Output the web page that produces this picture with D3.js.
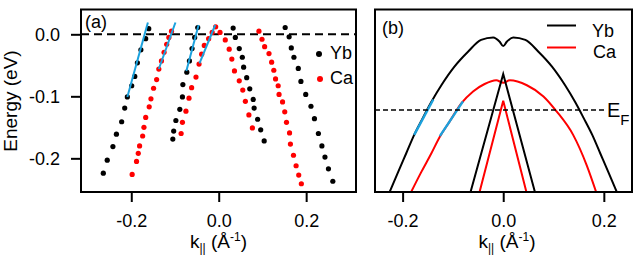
<!DOCTYPE html>
<html>
<head>
<meta charset="utf-8">
<script src="https://cdn.jsdelivr.net/npm/d3@7"></script>
<style>
body { margin: 0; background: #fff; }
text { font-family: "Liberation Sans", Arial, sans-serif; }
</style>
</head>
<body>
<svg width="642" height="256"></svg>
<script>
// tick labels
const kTicks = [-0.2, 0.0, 0.2];
const eTicks = [0.0, -0.1, -0.2];

// (a) measured peak positions, k (1/A) and E (eV)
const ybBand1 = [
  {k:-0.160, e:0.009}, {k:-0.167, e:-0.007}, {k:-0.178, e:-0.025}, {k:-0.186, e:-0.046},
  {k:-0.192, e:-0.068}, {k:-0.199, e:-0.083}, {k:-0.209, e:-0.101}, {k:-0.215, e:-0.119},
  {k:-0.222, e:-0.141}, {k:-0.234, e:-0.161}, {k:-0.242, e:-0.181}, {k:-0.255, e:-0.203},
  {k:-0.264, e:-0.224}
]
const caBand1 = [
  {k:-0.108, e:0.005}, {k:-0.114, e:-0.005}, {k:-0.119, e:-0.016}, {k:-0.125, e:-0.029},
  {k:-0.131, e:-0.043}, {k:-0.137, e:-0.056}, {k:-0.142, e:-0.073}, {k:-0.149, e:-0.087},
  {k:-0.155, e:-0.104}, {k:-0.159, e:-0.117}, {k:-0.167, e:-0.134}, {k:-0.171, e:-0.150},
  {k:-0.174, e:-0.164}, {k:-0.181, e:-0.180}, {k:-0.184, e:-0.192}, {k:-0.188, e:-0.205},
  {k:-0.198, e:-0.226}
]
const ybBand2 = [
  {k:-0.048, e:0.011}, {k:-0.055, e:-0.005}, {k:-0.061, e:-0.023}, {k:-0.067, e:-0.043},
  {k:-0.073, e:-0.061}, {k:-0.082, e:-0.081}, {k:-0.083, e:-0.101}, {k:-0.089, e:-0.121},
  {k:-0.098, e:-0.139}, {k:-0.103, e:-0.156}, {k:-0.105, e:-0.169}
]
const caBand2 = [
  {k:-0.007, e:0.012}, {k:-0.015, e:0.003}, {k:-0.023, e:-0.007}, {k:-0.033, e:-0.018},
  {k:-0.039, e:-0.032}, {k:-0.045, e:-0.048}, {k:-0.052, e:-0.069}, {k:-0.062, e:-0.086},
  {k:-0.068, e:-0.103}, {k:-0.075, e:-0.124}, {k:-0.083, e:-0.142}, {k:-0.086, e:-0.160}
]
const caBand3 = [
  {k:0.003, e:0.003}, {k:0.015, e:-0.009}, {k:0.024, e:-0.024}, {k:0.030, e:-0.040},
  {k:0.036, e:-0.059}, {k:0.047, e:-0.075}, {k:0.055, e:-0.090}, {k:0.061, e:-0.108},
  {k:0.069, e:-0.130}, {k:0.077, e:-0.151}
]
const ybBand3 = [
  {k:0.033, e:0.010}, {k:0.038, e:-0.005}, {k:0.047, e:-0.023}, {k:0.054, e:-0.037},
  {k:0.057, e:-0.053}, {k:0.064, e:-0.070}, {k:0.071, e:-0.088}, {k:0.079, e:-0.105},
  {k:0.081, e:-0.119}, {k:0.089, e:-0.137}, {k:0.096, e:-0.154}, {k:0.104, e:-0.172}
]
const caBand4 = [
  {k:0.092, e:0.005}, {k:0.099, e:-0.008}, {k:0.105, e:-0.020}, {k:0.115, e:-0.031},
  {k:0.121, e:-0.045}, {k:0.126, e:-0.058}, {k:0.130, e:-0.072}, {k:0.136, e:-0.083},
  {k:0.138, e:-0.097}, {k:0.146, e:-0.109}, {k:0.151, e:-0.125}, {k:0.155, e:-0.142},
  {k:0.162, e:-0.159}, {k:0.164, e:-0.177}, {k:0.171, e:-0.195}, {k:0.177, e:-0.212},
  {k:0.183, e:-0.227}, {k:0.189, e:-0.241}
]
const ybBand4 = [
  {k:0.152, e:0.011}, {k:0.161, e:-0.004}, {k:0.166, e:-0.022}, {k:0.172, e:-0.037},
  {k:0.182, e:-0.055}, {k:0.188, e:-0.076}, {k:0.199, e:-0.097}, {k:0.211, e:-0.116},
  {k:0.219, e:-0.136}, {k:0.228, e:-0.160}, {k:0.236, e:-0.180}, {k:0.243, e:-0.198},
  {k:0.251, e:-0.217}, {k:0.261, e:-0.237}
]
// linear fits near E_F
const fitsA = [
  [{k:-0.162, e:0.019}, {k:-0.209, e:-0.101}],
  [{k:-0.099, e:0.019}, {k:-0.137, e:-0.056}],
  [{k:-0.046, e:0.015}, {k:-0.074, e:-0.059}],
  [{k:-0.008, e:0.015}, {k:-0.044, e:-0.047}]
]

// (b) model bands, E relative to E_F
const ybOuter = [
  {k:-0.230, e:-0.140}, {k:-0.209, e:-0.100}, {k:-0.193, e:-0.070}, {k:-0.177, e:-0.040},
  {k:-0.160, e:-0.013}, {k:-0.143, e:0.013}, {k:-0.123, e:0.040}, {k:-0.097, e:0.070},
  {k:-0.070, e:0.094}, {k:-0.044, e:0.113}, {k:-0.020, e:0.117}, {k:-0.007, e:0.110},
  {k:0.000, e:0.103},
  {k:0.007, e:0.110}, {k:0.020, e:0.117}, {k:0.044, e:0.113}, {k:0.070, e:0.094},
  {k:0.097, e:0.070}, {k:0.123, e:0.040}, {k:0.143, e:0.013}, {k:0.160, e:-0.013},
  {k:0.177, e:-0.040}, {k:0.193, e:-0.070}, {k:0.209, e:-0.100}, {k:0.230, e:-0.140}
]
const caOuter = [
  {k:-0.188, e:-0.140}, {k:-0.163, e:-0.100}, {k:-0.143, e:-0.070}, {k:-0.126, e:-0.043},
  {k:-0.107, e:-0.019}, {k:-0.083, e:0.011}, {k:-0.060, e:0.030}, {k:-0.037, e:0.042},
  {k:-0.014, e:0.048}, {k:0.000, e:0.044}, {k:0.013, e:0.048}, {k:0.047, e:0.040},
  {k:0.080, e:0.022}, {k:0.106, e:-0.002}, {k:0.139, e:-0.040}, {k:0.166, e:-0.089},
  {k:0.188, e:-0.140}
]
const ybInner = [{k:-0.066, e:-0.135}, {k:0.000, e:0.058}, {k:0.064, e:-0.135}]
const caInner = [{k:-0.048, e:-0.135}, {k:0.000, e:0.015}, {k:0.047, e:-0.135}]
const fitsB = [
  [{k:-0.177, e:-0.040}, {k:-0.139, e:0.017}],
  [{k:-0.126, e:-0.042}, {k:-0.080, e:0.014}]
]

const blue = "#1ba1dd"

const svg = d3.select("svg")
  .style("background", "#fff")

// ---------- panel (a) ----------
const xa = d3.scaleLinear().domain([-0.315, 0.314]).range([81, 356])
const ya = d3.scaleLinear().domain([0.04, -0.2543]).range([9.5, 192])

svg.append("line")
  .attr("x1", xa(-0.315)).attr("x2", xa(0.314))
  .attr("y1", ya(0)).attr("y2", ya(0))
  .attr("stroke", "#000").attr("stroke-width", 2)
  .attr("stroke-dasharray", "8,5")

const bandsA = [
  {pts: ybBand1, c: "#000"}, {pts: ybBand2, c: "#000"}, {pts: ybBand3, c: "#000"}, {pts: ybBand4, c: "#000"},
  {pts: caBand1, c: "#f00"}, {pts: caBand2, c: "#f00"}, {pts: caBand3, c: "#f00"}, {pts: caBand4, c: "#f00"}
]
bandsA.forEach(function(b) {
  svg.append("g")
    .selectAll("circle")
    .data(b.pts)
    .enter()
    .append("circle")
    .attr("cx", function(d) {return xa(d.k)})
    .attr("cy", function(d) {return ya(d.e)})
    .attr("r", 2.6)
    .attr("fill", b.c)
})

const lineA = d3.line().x(d => xa(d.k)).y(d => ya(d.e))
svg.append("g")
  .selectAll("path")
  .data(fitsA)
  .enter()
  .append("path")
  .attr("d", lineA)
  .attr("stroke", blue).attr("stroke-width", 2).attr("fill", "none")

// legend (a)
svg.append("circle").attr("cx", 319).attr("cy", 54).attr("r", 3).attr("fill", "#000")
svg.append("circle").attr("cx", 320).attr("cy", 79).attr("r", 3).attr("fill", "#f00")
svg.append("text").attr("x", 330).attr("y", 58.5).attr("font-size", "18px").text("Yb")
svg.append("text").attr("x", 330).attr("y", 84).attr("font-size", "18px").text("Ca")

svg.append("text").attr("x", 85).attr("y", 27.5).attr("font-size", "18px").text("(a)")

const axA = svg.append("g")
  .attr("transform", "translate(0,192)")
  .call(d3.axisBottom(xa).tickValues(kTicks).tickFormat(d => d.toFixed(1)).tickSize(10).tickPadding(12).tickSizeOuter(0))
const ayA = svg.append("g")
  .attr("transform", "translate(81,0)")
  .call(d3.axisLeft(ya).tickValues(eTicks).tickFormat(d => d.toFixed(1)).tickSize(10).tickPadding(11).tickSizeOuter(0))

svg.append("rect")
  .attr("x", 81).attr("y", 9.5).attr("width", 275).attr("height", 182.5)
  .attr("fill", "none").attr("stroke", "#000").attr("stroke-width", 2)

svg.append("text")
  .attr("transform", "translate(16.5,101) rotate(-90)")
  .attr("text-anchor", "middle")
  .attr("font-size", "19px")
  .text("Energy (eV)")

// ---------- panel (b) ----------
const xb = d3.scaleLinear().domain([-0.2549, 0.256]).range([375, 632])
const yb = d3.scaleLinear().domain([0.162, -0.132]).range([9.5, 192])

svg.append("clipPath").attr("id", "clipb")
  .append("rect").attr("x", 375).attr("y", 9.5).attr("width", 257).attr("height", 182.5)

const plotB = svg.append("g").attr("clip-path", "url(#clipb)")

svg.append("line")
  .attr("x1", xb(-0.2549)).attr("x2", 605)
  .attr("y1", yb(0)).attr("y2", yb(0))
  .attr("stroke", "#000").attr("stroke-width", 1.6)
  .attr("stroke-dasharray", "5,3")

const smooth = d3.line().x(d => xb(d.k)).y(d => yb(d.e)).curve(d3.curveMonotoneX)
const straight = d3.line().x(d => xb(d.k)).y(d => yb(d.e))

plotB.append("path").attr("d", smooth(ybOuter)).attr("stroke", "#000").attr("stroke-width", 2).attr("fill", "none")
plotB.append("path").attr("d", smooth(caOuter)).attr("stroke", "#f00").attr("stroke-width", 2).attr("fill", "none")
plotB.append("path").attr("d", straight(ybInner)).attr("stroke", "#000").attr("stroke-width", 2).attr("fill", "none")
plotB.append("path").attr("d", straight(caInner)).attr("stroke", "#f00").attr("stroke-width", 2).attr("fill", "none")
plotB.selectAll("path.fit")
  .data(fitsB)
  .enter()
  .append("path")
  .attr("class", "fit")
  .attr("d", straight)
  .attr("stroke", blue).attr("stroke-width", 2.4).attr("fill", "none")

// legend (b)
svg.append("line").attr("x1", 547).attr("x2", 576).attr("y1", 25.5).attr("y2", 25.5).attr("stroke", "#000").attr("stroke-width", 2)
svg.append("line").attr("x1", 547).attr("x2", 576).attr("y1", 47.5).attr("y2", 47.5).attr("stroke", "#f00").attr("stroke-width", 2)
svg.append("text").attr("x", 592).attr("y", 36.5).attr("font-size", "18px").text("Yb")
svg.append("text").attr("x", 593).attr("y", 58).attr("font-size", "18px").text("Ca")

svg.append("text").attr("x", 382).attr("y", 33.5).attr("font-size", "18px").text("(b)")

const ef = svg.append("text").attr("x", 607).attr("y", 117).attr("font-size", "20px")
ef.append("tspan").text("E")
ef.append("tspan").attr("font-size", "15px").attr("dy", 8).text("F")

const axB = svg.append("g")
  .attr("transform", "translate(0,192)")
  .call(d3.axisBottom(xb).tickValues(kTicks).tickFormat(d => d.toFixed(1)).tickSize(10).tickPadding(12).tickSizeOuter(0))

svg.append("rect")
  .attr("x", 375).attr("y", 9.5).attr("width", 257).attr("height", 182.5)
  .attr("fill", "none").attr("stroke", "#000").attr("stroke-width", 2)

// axis styling
;[axA, ayA, axB].forEach(function(g) {
  g.select(".domain").remove()
  g.selectAll(".tick line").attr("stroke-width", 2)
  g.selectAll(".tick text").attr("font-size", "18px").attr("fill", "#000")
  g.attr("font-family", null).attr("font-size", null)
})

// x axis titles
function kLabel(cx) {
  const t = svg.append("text").attr("x", cx).attr("y", 248).attr("text-anchor", "middle").attr("font-size", "19px")
  t.append("tspan").text("k")
  t.append("tspan").attr("font-size", "12px").attr("dy", 4).text("||")
  t.append("tspan").attr("dy", -4).text(" (Å")
  t.append("tspan").attr("font-size", "12px").attr("dy", -7).text("-1")
  t.append("tspan").attr("dy", 7).text(")")
}
kLabel(218.5)
kLabel(507)
</script>
</body>
</html>
